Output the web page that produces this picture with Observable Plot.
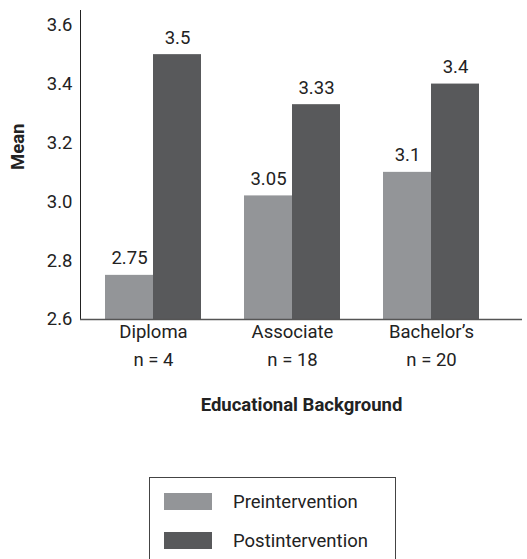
<!DOCTYPE html>
<html>
<head>
<meta charset="utf-8">
<script src="https://cdn.jsdelivr.net/npm/d3@7"></script>
<script src="https://cdn.jsdelivr.net/npm/@observablehq/plot@0.6"></script>
<style>
  body { margin: 0; background: #fff; font-family: Roboto, "DejaVu Sans Condensed", sans-serif; }
  #chart { width: 527px; }
  .legend { position: relative; margin-left: 149px; width: 231px; border: 1px solid #444; border-bottom: none; padding: 14px 0 20px 14px; color: #222; font-size: 18.5px; }
  .legend .row { display: flex; align-items: center; height: 39px; }
  .legend .row:first-child { margin-top: -10px; }
  .legend .sw { width: 48px; height: 17px; margin-right: 21px; }
</style>
</head>
<body>
<div id="chart"></div>
<script>
const categories = ["Diploma", "Associate", "Bachelor\u2019s"];
const groupSizes = ["n = 4", "n = 18", "n = 20"];
const preValues = [2.75, 3.02, 3.1];
const postValues = [3.5, 3.33, 3.4];
const preLabels = ["2.75", "3.05", "3.1"];
const postLabels = ["3.5", "3.33", "3.4"];
const yTicks = [2.6, 2.8, 3.0, 3.2, 3.4, 3.6];
const seriesNames = ["Preintervention", "Postintervention"];
const colors = ["#939598", "#58595b"];

const pre = categories.map((c, i) => ({cat: c, n: groupSizes[i], value: preValues[i], label: preLabels[i]}));
const post = categories.map((c, i) => ({cat: c, n: groupSizes[i], value: postValues[i], label: postLabels[i]}));
const font = "Roboto, DejaVu Sans Condensed, sans-serif";
const fs = 18.5;

const chart = Plot.plot({
  width: 527,
  height: 470,
  marginLeft: 80,
  marginRight: 5,
  marginTop: 10,
  marginBottom: 151,
  style: {fontFamily: font, fontSize: fs + "px", color: "#222", background: "#fff"},
  x: {domain: categories, range: [83, 501], paddingInner: 0.309, paddingOuter: 0.158, axis: null},
  y: {domain: [2.6, 3.65], ticks: yTicks, tickFormat: ".1f", tickSize: 0, tickPadding: 8, label: null, line: true},
  marks: [
    Plot.barY(pre, {x: "cat", y1: 2.6, y2: "value", fill: colors[0], insetRight: 48, insetLeft: 0}),
    Plot.barY(post, {x: "cat", y1: 2.6, y2: "value", fill: colors[1], insetLeft: 48, insetRight: 0}),
    Plot.text(pre, {x: "cat", y: "value", text: "label", dx: -24, dy: -17, fill: "#222", fontSize: fs}),
    Plot.text(post, {x: "cat", y: "value", text: "label", dx: 24, dy: -17, fill: "#222", fontSize: fs}),
    Plot.ruleY([2.6], {stroke: "#555", strokeWidth: 1.5}),
    Plot.text(categories, {x: d => d, text: d => d, frameAnchor: "bottom", dy: 18, fill: "#222", fontSize: fs}),
    Plot.text(groupSizes, {x: (d, i) => categories[i], text: d => d, frameAnchor: "bottom", dy: 46, fill: "#222", fontSize: fs}),
    Plot.text(["Educational Background"], {frameAnchor: "bottom", dy: 91, fontWeight: "bold", fontSize: fs, fill: "#222"}),
    Plot.text(["Mean"], {frameAnchor: "left", dx: -62, dy: 5, rotate: -90, fontWeight: "bold", fontSize: fs, fill: "#222"})
  ]
});
document.getElementById("chart").appendChild(chart);

const legend = document.createElement("div");
legend.className = "legend";
legend.style.marginTop = "7px";
seriesNames.forEach((name, i) => {
  const row = document.createElement("div");
  row.className = "row";
  const sw = document.createElement("span");
  sw.className = "sw";
  sw.style.background = colors[i];
  const t = document.createElement("span");
  t.textContent = name;
  row.appendChild(sw);
  row.appendChild(t);
  legend.appendChild(row);
});
document.body.appendChild(legend);
</script>
</body>
</html>
